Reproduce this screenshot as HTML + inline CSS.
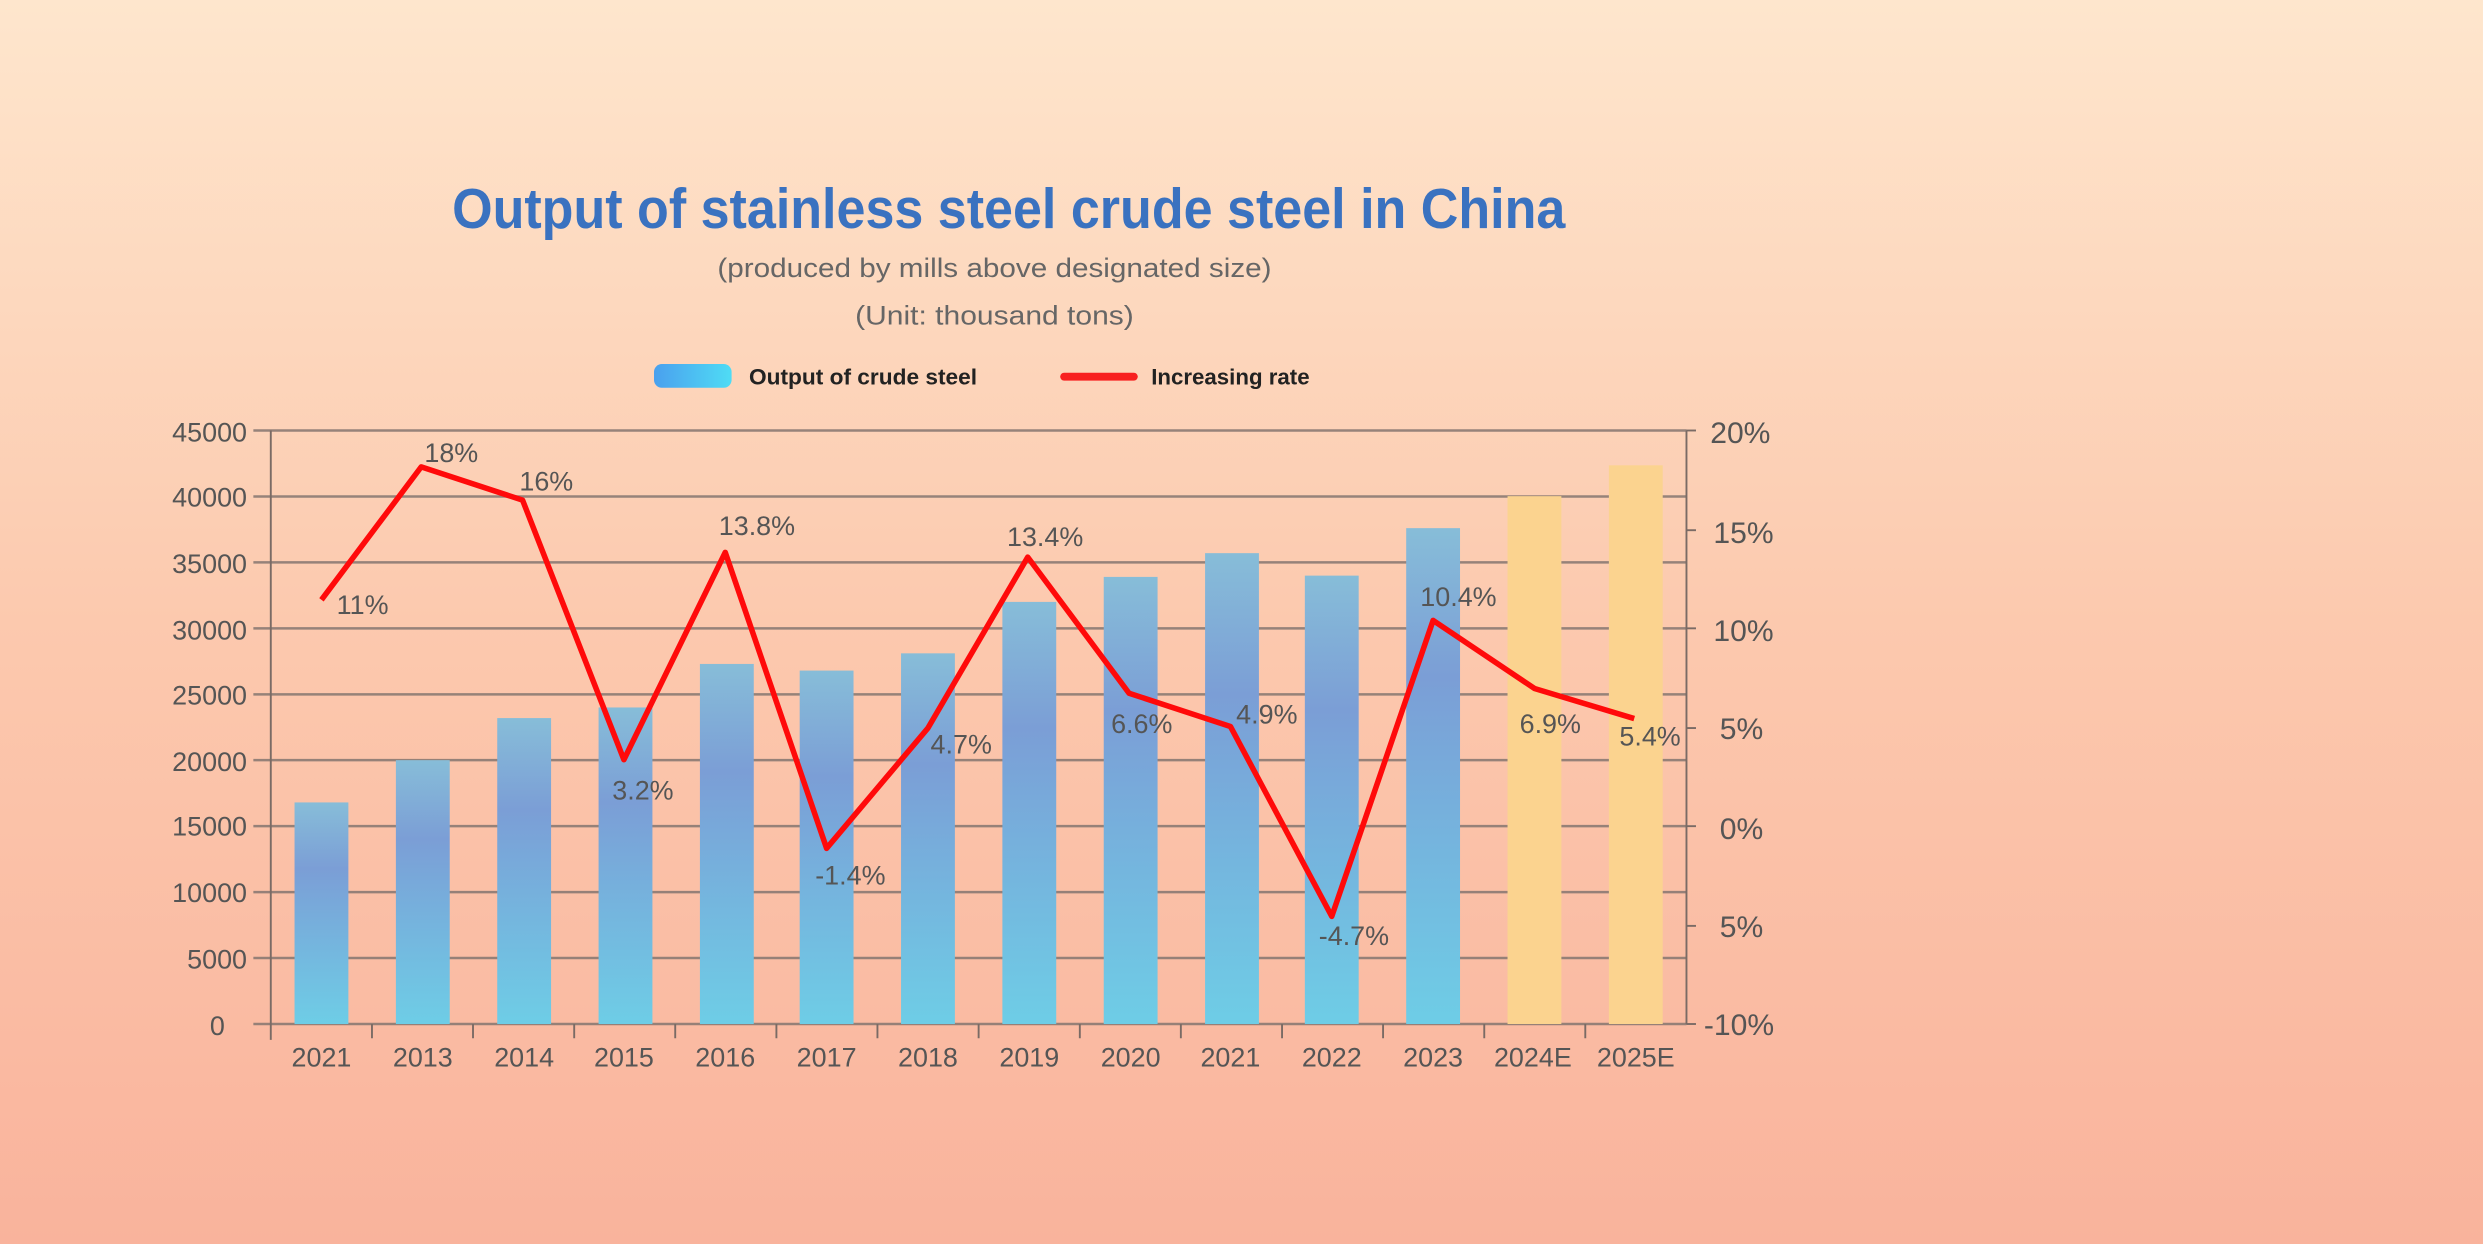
<!DOCTYPE html>
<html><head><meta charset="utf-8"><style>
html,body{margin:0;padding:0;width:2483px;height:1244px;overflow:hidden}
svg{display:block}
text{font-family:"Liberation Sans Narrow","Liberation Sans",sans-serif}
</style></head><body>
<svg width="2483" height="1244" viewBox="0 0 1568 786" preserveAspectRatio="none" xmlns="http://www.w3.org/2000/svg">
<defs>
<linearGradient id="bg" x1="0" y1="0" x2="0" y2="1">
<stop offset="0" stop-color="#fee6cd"/><stop offset="0.5" stop-color="#fcc9ae"/><stop offset="1" stop-color="#f9b39c"/>
</linearGradient>
<linearGradient id="bar" x1="0" y1="0" x2="0" y2="1">
<stop offset="0" stop-color="#87bdd8"/><stop offset="0.3" stop-color="#7b9ed6"/><stop offset="1" stop-color="#6ecde6"/>
</linearGradient>
<linearGradient id="leg" x1="0" y1="0" x2="1" y2="0">
<stop offset="0" stop-color="#4aa0ee"/><stop offset="1" stop-color="#4fdcf5"/>
</linearGradient>
</defs>
<rect width="1568" height="786" fill="url(#bg)"/>
<text x="637" y="144" text-anchor="middle" font-size="36" font-weight="bold" fill="#3a72c0" textLength="703" lengthAdjust="spacingAndGlyphs">Output of stainless steel crude steel in China</text>
<text x="628" y="175" text-anchor="middle" font-size="17" fill="#666" textLength="350" lengthAdjust="spacingAndGlyphs">(produced by mills above designated size)</text>
<text x="628" y="205" text-anchor="middle" font-size="17" fill="#666" textLength="176" lengthAdjust="spacingAndGlyphs">(Unit: thousand tons)</text>
<rect x="413" y="230" width="49" height="15" rx="5" fill="url(#leg)"/>
<text x="473" y="243" font-size="14" font-weight="bold" fill="#222" textLength="144" lengthAdjust="spacingAndGlyphs">Output of crude steel</text>
<line x1="672" y1="238" x2="716" y2="238" stroke="#f82020" stroke-width="5" stroke-linecap="round"/>
<text x="727" y="243" font-size="14" font-weight="bold" fill="#222" textLength="100" lengthAdjust="spacingAndGlyphs">Increasing rate</text>
<g stroke="#857670" stroke-width="1.6" opacity="0.85">
<line x1="160" y1="272" x2="1065" y2="272"/>
<line x1="160" y1="313.7" x2="1065" y2="313.7"/>
<line x1="160" y1="355.3" x2="1065" y2="355.3"/>
<line x1="160" y1="397" x2="1065" y2="397"/>
<line x1="160" y1="438.7" x2="1065" y2="438.7"/>
<line x1="160" y1="480.3" x2="1065" y2="480.3"/>
<line x1="160" y1="522" x2="1065" y2="522"/>
<line x1="160" y1="563.7" x2="1065" y2="563.7"/>
<line x1="160" y1="605.3" x2="1065" y2="605.3"/>
<line x1="160" y1="647" x2="1065" y2="647"/>
</g>
<g fill="url(#bar)">
<rect x="186" y="507" width="34" height="140"/>
<rect x="250" y="480.3" width="34" height="166.7"/>
<rect x="314" y="453.7" width="34" height="193.3"/>
<rect x="378" y="447" width="34" height="200"/>
<rect x="442" y="419.5" width="34" height="227.5"/>
<rect x="505" y="423.7" width="34" height="223.3"/>
<rect x="569" y="412.8" width="34" height="234.2"/>
<rect x="633" y="380.3" width="34" height="266.7"/>
<rect x="697" y="364.5" width="34" height="282.5"/>
<rect x="761" y="349.5" width="34" height="297.5"/>
<rect x="824" y="363.7" width="34" height="283.3"/>
<rect x="888" y="333.7" width="34" height="313.3"/>
</g>
<rect x="952" y="313.5" width="34" height="333.5" fill="#fbd38f"/>
<rect x="1016" y="294" width="34" height="353" fill="#fbd38f"/>
<g stroke="#7a6b65" stroke-width="1.2">
<line x1="171" y1="272" x2="171" y2="657"/>
<line x1="1065" y1="272" x2="1065" y2="647"/>
<line x1="234.9" y1="647" x2="234.9" y2="656"/><line x1="298.7" y1="647" x2="298.7" y2="656"/>
<line x1="362.6" y1="647" x2="362.6" y2="656"/><line x1="426.4" y1="647" x2="426.4" y2="656"/>
<line x1="490.3" y1="647" x2="490.3" y2="656"/><line x1="554.1" y1="647" x2="554.1" y2="656"/>
<line x1="618" y1="647" x2="618" y2="656"/><line x1="681.9" y1="647" x2="681.9" y2="656"/>
<line x1="745.7" y1="647" x2="745.7" y2="656"/><line x1="809.6" y1="647" x2="809.6" y2="656"/>
<line x1="873.4" y1="647" x2="873.4" y2="656"/><line x1="937.3" y1="647" x2="937.3" y2="656"/>
<line x1="1001.1" y1="647" x2="1001.1" y2="656"/>
<line x1="1065" y1="272" x2="1071" y2="272"/><line x1="1065" y1="335" x2="1071" y2="335"/>
<line x1="1065" y1="397" x2="1071" y2="397"/><line x1="1065" y1="460" x2="1071" y2="460"/>
<line x1="1065" y1="522" x2="1071" y2="522"/><line x1="1065" y1="585" x2="1071" y2="585"/>
<line x1="1065" y1="647" x2="1071" y2="647"/>
</g>
<g font-size="17" fill="#555" text-anchor="end">
<text x="156" y="279">45000</text><text x="156" y="320">40000</text><text x="156" y="362">35000</text>
<text x="156" y="404">30000</text><text x="156" y="445">25000</text><text x="156" y="487">20000</text>
<text x="156" y="528">15000</text><text x="156" y="570">10000</text><text x="156" y="612">5000</text>
<text x="142" y="654">0</text>
</g>
<g font-size="19" fill="#555">
<text x="1080" y="280">20%</text><text x="1082" y="343">15%</text><text x="1082" y="405">10%</text>
<text x="1086" y="467">5%</text><text x="1086" y="530">0%</text><text x="1086" y="592">5%</text>
<text x="1076" y="654">-10%</text>
</g>
<g font-size="17" fill="#555" text-anchor="middle">
<text x="203" y="674">2021</text><text x="267" y="674">2013</text><text x="331" y="674">2014</text>
<text x="394" y="674">2015</text><text x="458" y="674">2016</text><text x="522" y="674">2017</text>
<text x="586" y="674">2018</text><text x="650" y="674">2019</text><text x="714" y="674">2020</text>
<text x="777" y="674">2021</text><text x="841" y="674">2022</text><text x="905" y="674">2023</text>
<text x="968" y="674">2024E</text><text x="1033" y="674">2025E</text>
</g>
<polyline fill="none" stroke="#ff0a0a" stroke-width="3.5" stroke-linejoin="round" points="203,379 266,295 330,316 394,480 458,349 522,536 586,460 649,352 713,438 777,459 841,579 905,392 969,435 1032,454"/>
<g font-size="17" fill="#555" text-anchor="middle">
<text x="229" y="388">11%</text><text x="285" y="292">18%</text><text x="345" y="310">16%</text>
<text x="406" y="505">3.2%</text><text x="478" y="338">13.8%</text><text x="537" y="559">-1.4%</text>
<text x="607" y="476">4.7%</text><text x="660" y="345">13.4%</text><text x="721" y="463">6.6%</text>
<text x="800" y="457">4.9%</text><text x="855" y="597">-4.7%</text><text x="921" y="383">10.4%</text>
<text x="979" y="463">6.9%</text><text x="1042" y="471">5.4%</text>
</g>
</svg>
</body></html>
